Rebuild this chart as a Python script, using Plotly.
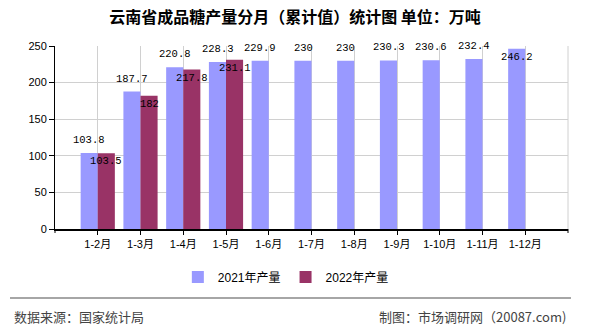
import plotly.graph_objects as go

categories = ["1-2月", "1-3月", "1-4月", "1-5月", "1-6月", "1-7月", "1-8月", "1-9月", "1-10月", "1-11月", "1-12月"]
values_2021 = [103.8, 187.7, 220.8, 228.3, 229.9, 230, 230, 230.3, 230.6, 232.4, 246.2]
values_2022 = [103.5, 182, 217.8, 231.1, None, None, None, None, None, None, None]
series_names = ["2021年产量", "2022年产量"]
y_ticks = [0, 50, 100, 150, 200, 250]

C2021 = "#9999FF"
C2022 = "#993366"
LABEL_FONT = dict(family="Liberation Mono, DejaVu Sans Mono, monospace", size=10.5, color="black")
TICK_FONT = dict(family="Liberation Sans, Noto Sans CJK SC", size=11, color="black")

fig = go.Figure()
fig.add_trace(go.Bar(x=categories, y=values_2021, name=series_names[0], marker_color=C2021,
                     marker_line_width=0))
fig.add_trace(go.Bar(x=categories, y=values_2022, name=series_names[1], marker_color=C2022,
                     marker_line_width=0))

annotations = []
for c, v in zip(categories, values_2021):
    annotations.append(dict(x=c, y=v, xref="x", yref="y", text=f"{v:g}", showarrow=False,
                            xshift=-8.5, yshift=(13 if v < 240 else -8), font=LABEL_FONT,
                            xanchor="center", yanchor="middle"))
for c, v in zip(categories, values_2022):
    if v is None:
        continue
    annotations.append(dict(x=c, y=v, xref="x", yref="y", text=f"{v:g}", showarrow=False,
                            xshift=8.5, yshift=-8, font=LABEL_FONT,
                            xanchor="center", yanchor="middle"))

FOOT_FONT = dict(family="Noto Sans CJK SC", size=13, color="#444444")
annotations.append(dict(x=-0.0838, y=-0.479, xref="paper", yref="paper", text="数据来源：国家统计局",
                        showarrow=False, xanchor="left", yanchor="middle", font=FOOT_FONT))
annotations.append(dict(x=1.0, y=-0.479, xref="paper", yref="paper", text="制图：市场调研网（20087.com)",
                        showarrow=False, xanchor="right", yanchor="middle", font=FOOT_FONT))

shapes = [
    dict(type="line", xref="paper", yref="paper", x0=-0.0877, x1=1.0058, y0=-0.377, y1=-0.377,
         line=dict(color="#888888", width=1.5)),
    dict(type="line", xref="paper", yref="paper", x0=1, x1=1, y0=0, y1=1,
         line=dict(color="#d0d0d0", width=1)),
    dict(type="line", xref="paper", yref="paper", x0=1, x1=1, y0=0, y1=-4 / 183,
         line=dict(color="black", width=1)),
    dict(type="line", xref="paper", yref="paper", x0=0, x1=0, y0=0, y1=-4 / 183,
         line=dict(color="black", width=1)),
]

fig.update_layout(
    width=590, height=330,
    margin=dict(l=55, r=22, t=46, b=101),
    paper_bgcolor="white", plot_bgcolor="white",
    barmode="group", bargap=0.2, bargroupgap=0,
    title=dict(text="云南省成品糖产量分月（累计值）统计图 单位：万吨", x=0.5, xref="container",
               xanchor="center", y=1 - 17 / 330, yanchor="middle",
               font=dict(family="Noto Sans CJK SC", size=16, color="black", weight="bold")),
    showlegend=True,
    legend=dict(orientation="h", x=0.45, xanchor="center", y=-0.262, yanchor="middle",
                font=dict(family="Liberation Sans, Noto Sans CJK SC", size=12, color="black"),
                itemwidth=30),
    annotations=annotations,
    shapes=shapes,
    xaxis=dict(type="category", range=[-1, 11], showgrid=True, gridcolor="#d0d0d0", gridwidth=1,
               showline=True, linecolor="black", linewidth=1.5, ticks="outside", ticklen=4,
               tickcolor="black", tickfont=TICK_FONT, zeroline=False),
    yaxis=dict(range=[0, 250], tickvals=y_ticks, showgrid=True, gridcolor="#d0d0d0", gridwidth=1,
               showline=True, linecolor="black", linewidth=1, ticks="outside", ticklen=5,
               tickcolor="black", tickfont=TICK_FONT, zeroline=False),
)

fig.write_html("out.html")
